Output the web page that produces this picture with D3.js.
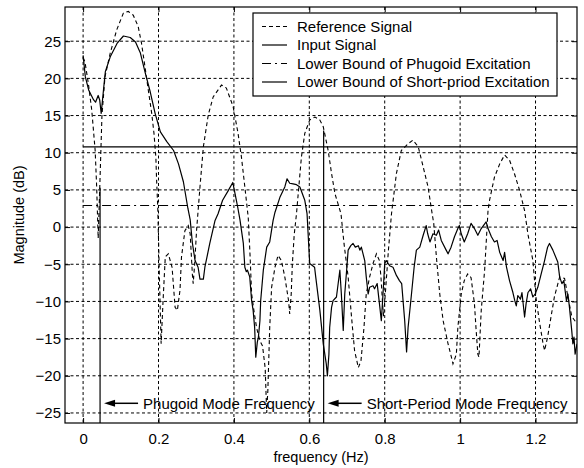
<!DOCTYPE html>
<html>
<head>
<meta charset="utf-8">
<script src="https://cdn.jsdelivr.net/npm/d3@7"></script>
<style>
  html, body { margin: 0; padding: 0; background: #fff; }
  svg { display: block; font-family: "Liberation Sans", Arial, sans-serif; }
</style>
</head>
<body>
<svg id="chart" width="584" height="468"></svg>
<script>
// Frequency response of the excitation signals (frequency in Hz, magnitude in dB)
const referenceFreq = [0,0.005,0.014,0.023,0.032,0.036,0.040,0.044,0.050,0.058,0.072,0.089,0.107,0.120,0.133,0.146,0.155,0.164,0.173,0.182,0.188,0.193,0.195,0.198,0.203,0.207,0.212,0.218,0.226,0.236,0.244,0.250,0.257,0.261,0.270,0.279,0.284,0.290,0.292,0.296,0.301,0.310,0.319,0.332,0.345,0.367,0.380,0.398,0.411,0.420,0.429,0.438,0.443,0.447,0.453,0.460,0.469,0.476,0.483,0.487,0.490,0.495,0.500,0.509,0.517,0.526,0.535,0.545,0.548,0.552,0.555,0.560,0.566,0.579,0.588,0.601,0.615,0.628,0.637,0.650,0.659,0.668,0.684,0.692,0.703,0.712,0.720,0.730,0.737,0.745,0.751,0.760,0.769,0.778,0.786,0.790,0.795,0.797,0.803,0.810,0.818,0.831,0.844,0.862,0.875,0.889,0.902,0.915,0.923,0.930,0.937,0.946,0.955,0.968,0.975,0.981,0.990,0.994,1.003,1.011,1.020,1.029,1.038,1.042,1.047,1.050,1.056,1.065,1.074,1.078,1.091,1.105,1.118,1.131,1.144,1.158,1.171,1.180,1.193,1.201,1.210,1.220,1.224,1.232,1.241,1.250,1.264,1.277,1.286,1.296,1.310];
const referenceDb = [22.8,22.2,19.3,15.7,10.3,5.4,-1.5,5.0,15.0,20.2,23.4,26.5,28.8,29.0,28.5,27.0,24.7,21.6,18.4,15.3,12.6,9.4,6.3,2.7,-8.0,-15.7,-10.0,-4.0,-3.6,-5.4,-10.8,-11.2,-8.5,-4.0,-0.5,0.2,-0.9,-6.5,-7.6,-4.9,-0.4,5.4,10.8,15.1,17.5,19.1,18.7,16.2,12.6,9.4,5.4,1.3,-4.0,-9.0,-11.2,-13.5,-15.3,-16.0,-19.0,-25.0,-22.0,-13.5,-8.1,-5.4,-3.8,-4.5,-6.7,-9.9,-11.7,-9.0,-5.0,-1.0,1.8,9.4,12.6,14.4,14.8,14.4,13.5,10.3,7.2,4.5,1.8,-2.2,-6.7,-12.1,-16.6,-18.9,-18.0,-13.5,-9.0,-6.7,-4.9,-3.6,-4.5,-6.7,-10.8,-12.0,-8.0,-3.0,1.8,7.2,10.3,11.2,11.7,10.8,8.1,5.4,2.7,0.5,-4.0,-9.0,-12.6,-15.7,-17.1,-18.4,-17.1,-13.5,-9.0,-7.2,-6.3,-6.8,-10.3,-13.5,-17.1,-17.5,-11.2,-5.8,2.2,3.6,6.7,8.5,9.7,9.0,7.2,4.9,2.2,-1.0,-4.5,-9.4,-12.6,-15.7,-16.6,-14.8,-12.1,-9.4,-6.7,-6.9,-9.4,-12.0,-13.0];

const inputFreq = [0,0.006,0.015,0.028,0.033,0.040,0.044,0.048,0.055,0.059,0.072,0.090,0.107,0.125,0.139,0.152,0.165,0.178,0.191,0.205,0.222,0.240,0.253,0.266,0.278,0.284,0.290,0.297,0.305,0.310,0.319,0.323,0.336,0.350,0.358,0.370,0.385,0.397,0.403,0.410,0.416,0.425,0.429,0.433,0.436,0.442,0.447,0.451,0.455,0.458,0.462,0.465,0.469,0.471,0.478,0.487,0.495,0.504,0.509,0.522,0.535,0.541,0.548,0.557,0.566,0.575,0.588,0.594,0.601,0.614,0.617,0.628,0.637,0.645,0.648,0.652,0.654,0.659,0.663,0.672,0.681,0.685,0.690,0.694,0.699,0.703,0.710,0.716,0.722,0.730,0.734,0.738,0.747,0.751,0.756,0.760,0.769,0.773,0.780,0.786,0.791,0.795,0.800,0.804,0.813,0.822,0.831,0.839,0.845,0.853,0.858,0.862,0.871,0.878,0.884,0.893,0.902,0.910,0.914,0.920,0.928,0.937,0.943,0.950,0.963,0.968,0.976,0.985,0.994,0.998,1.003,1.011,1.020,1.029,1.038,1.047,1.056,1.069,1.074,1.083,1.091,1.098,1.105,1.114,1.118,1.123,1.131,1.140,1.145,1.149,1.153,1.160,1.164,1.171,1.175,1.180,1.187,1.193,1.199,1.206,1.215,1.224,1.232,1.237,1.246,1.259,1.264,1.270,1.275,1.282,1.286,1.290,1.296,1.299,1.302,1.305,1.310];
const inputDb = [23.1,20.2,18.4,17.1,16.8,17.7,17.1,15.3,18.9,20.9,22.9,24.7,25.7,25.5,24.9,23.4,20.7,18.2,15.3,12.8,11.5,10.3,8.5,6.1,2.5,1.0,-2.2,-4.5,-5.4,-7.0,-7.0,-5.4,-2.2,0.9,1.8,3.6,4.9,6.0,4.5,2.7,1.0,-2.2,-5.4,-6.0,-5.8,-6.7,-9.9,-11.2,-13.5,-17.5,-15.5,-14.8,-12.6,-9.9,-5.8,-2.7,-2.0,0.9,2.0,4.0,5.4,6.5,5.9,5.8,5.7,5.4,3.6,1.8,-4.9,-5.4,-6.7,-11.2,-15.7,-18.4,-20.0,-17.1,-13.5,-10.8,-9.9,-9.4,-5.8,-9.0,-13.9,-9.0,-5.8,-3.1,-2.5,-2.2,-2.7,-2.5,-3.1,-2.7,-4.5,-6.7,-9.0,-8.1,-7.9,-8.3,-7.6,-10.3,-12.6,-9.4,-4.9,-4.5,-5.2,-5.4,-6.5,-7.2,-7.6,-12.6,-16.8,-13.5,-9.0,-5.4,-3.1,-2.7,-1.1,0.2,-0.9,-2.0,-0.9,-1.1,-0.4,-1.8,-3.1,-3.6,-2.7,-1.3,-0.2,0.2,-0.9,-2.0,-0.9,0.5,-0.2,-1.1,-0.2,0.7,-0.2,-1.3,-2.0,-1.8,-3.4,-4.5,-3.4,-5.4,-7.2,-8.8,-9.9,-10.6,-9.2,-9.7,-8.8,-12.1,-10.3,-8.8,-8.3,-9.4,-9.0,-8.1,-6.3,-4.5,-2.7,-2.2,-3.1,-4.7,-6.7,-7.6,-7.2,-9.9,-9.0,-10.8,-13.9,-15.7,-14.8,-17.1,-15.7];

// Lower bounds (dB)
const phugoidBound = 2.9;
const shortPeriodBound = 10.8;

// Mode frequencies (Hz) and the level where each marker line ends
const modeFreqs = [0.045, 0.638];
const modeLineTop = [5.3, 13.0];
const modeLabels = ["Phugoid Mode Frequency", "Short-Period Mode Frequency"];
const annotationDb = -23.7;

const xTicks = [0, 0.2, 0.4, 0.6, 0.8, 1, 1.2];
const yTicks = [-25, -20, -15, -10, -5, 0, 5, 10, 15, 20, 25];

const legendLabels = ["Reference Signal", "Input Signal", "Lower Bound of Phugoid Excitation", "Lower Bound of Short-priod Excitation"];

const margin = {left: 65, top: 7, right: 7, bottom: 45};
const W = 584, H = 468;
const pw = W - margin.left - margin.right;
const ph = H - margin.top - margin.bottom;

const svg = d3.select("#chart");
const g = svg.append("g").attr("transform", `translate(${margin.left},${margin.top})`);

const x = d3.scaleLinear().domain([-0.048, 1.31]).range([0, pw]);
const y = d3.scaleLinear().domain([-26.35, 29.6]).range([ph, 0]);

g.append("clipPath").attr("id", "plotClip")
  .append("rect").attr("width", pw).attr("height", ph);

// Dotted grid
const gridStyle = sel => sel.attr("stroke", "#000").attr("stroke-width", 1).attr("stroke-dasharray", "3,2.5").attr("fill", "none");
g.append("g").selectAll("line").data(xTicks).join("line")
  .attr("x1", d => x(d)).attr("x2", d => x(d)).attr("y1", 0).attr("y2", ph).call(gridStyle);
g.append("g").selectAll("line").data(yTicks).join("line")
  .attr("y1", d => y(d)).attr("y2", d => y(d)).attr("x1", 0).attr("x2", pw).call(gridStyle);

const plot = g.append("g").attr("clip-path", "url(#plotClip)");

const line = d3.line().x(d => x(d[0])).y(d => y(d[1]));

// Lower bound lines
plot.append("path").datum([[0, phugoidBound], [1.31, phugoidBound]])
  .attr("d", line).attr("fill", "none").attr("stroke", "#000").attr("stroke-width", 1.2)
  .attr("stroke-dasharray", "9,4,2,4");
plot.append("path").datum([[0, shortPeriodBound], [1.31, shortPeriodBound]])
  .attr("d", line).attr("fill", "none").attr("stroke", "#000").attr("stroke-width", 1.2);

// Reference signal
plot.append("path").datum(d3.zip(referenceFreq, referenceDb))
  .attr("d", line).attr("fill", "none").attr("stroke", "#000").attr("stroke-width", 1.1)
  .attr("stroke-dasharray", "4,3");

// Input signal
plot.append("path").datum(d3.zip(inputFreq, inputDb))
  .attr("d", line).attr("fill", "none").attr("stroke", "#000").attr("stroke-width", 1.2)
  .attr("stroke-linejoin", "round");

// Mode frequency markers
plot.selectAll("line.mode").data(modeFreqs).join("line").attr("class", "mode")
  .attr("x1", d => x(d)).attr("x2", d => x(d))
  .attr("y1", (d, i) => y(modeLineTop[i])).attr("y2", ph)
  .attr("stroke", "#000").attr("stroke-width", 1.2);

// Arrow annotations pointing back to each mode line
const ann = g.append("g");
modeFreqs.forEach((f, i) => {
  const tip = x(f) + 4, yy = y(annotationDb);
  ann.append("line").attr("x1", tip + 8).attr("x2", tip + 34).attr("y1", yy).attr("y2", yy)
    .attr("stroke", "#000").attr("stroke-width", 1.5);
  ann.append("path")
    .attr("d", `M${tip},${yy} L${tip + 11},${yy - 3.5} L${tip + 11},${yy + 3.5} Z`)
    .attr("fill", "#000");
  ann.append("text").attr("x", tip + 39).attr("y", yy).attr("dy", "0.35em")
    .attr("font-size", 15).text(modeLabels[i]);
});

// Axes with inward ticks on all sides
const styleAxis = sel => {
  sel.select(".domain").remove();
  sel.selectAll(".tick line").attr("stroke", "#000");
  sel.selectAll("text").attr("font-size", 15).attr("font-family", "Liberation Sans, Arial, sans-serif").attr("fill", "#000");
};
g.append("g").attr("transform", `translate(0,${ph})`)
  .call(d3.axisBottom(x).tickValues(xTicks).tickFormat(d3.format("~g")).tickSize(-5).tickPadding(10))
  .call(styleAxis);
g.append("g")
  .call(d3.axisTop(x).tickValues(xTicks).tickFormat("").tickSize(-5))
  .call(styleAxis);
g.append("g")
  .call(d3.axisLeft(y).tickValues(yTicks).tickFormat(d3.format("~g")).tickSize(-5).tickPadding(4))
  .call(styleAxis);
g.append("g").attr("transform", `translate(${pw},0)`)
  .call(d3.axisRight(y).tickValues(yTicks).tickFormat("").tickSize(-5))
  .call(styleAxis);

g.append("rect").attr("width", pw).attr("height", ph)
  .attr("fill", "none").attr("stroke", "#000").attr("stroke-width", 1.2);

// Axis titles
svg.append("text").attr("x", margin.left + pw / 2).attr("y", 462)
  .attr("text-anchor", "middle").attr("font-size", 14.5).text("frequency (Hz)");
svg.append("text").attr("transform", `translate(24,${margin.top + ph / 2}) rotate(-90)`)
  .attr("text-anchor", "middle").attr("font-size", 14.5).text("Magnitude (dB)");

// Legend
const legend = svg.append("g").attr("transform", "translate(253,13)");
legend.append("rect").attr("width", 304).attr("height", 83)
  .attr("fill", "#fff").attr("stroke", "#000").attr("stroke-width", 1.2);
const dashes = ["4,3", null, "9,4,2,4", null];
legendLabels.forEach((t, i) => {
  const yy = 13.5 + i * 18.5;
  legend.append("line").attr("x1", 9).attr("x2", 34).attr("y1", yy).attr("y2", yy)
    .attr("stroke", "#000").attr("stroke-width", 1.2)
    .attr("stroke-dasharray", dashes[i]);
  legend.append("text").attr("x", 44).attr("y", yy).attr("dy", "0.35em")
    .attr("font-size", 15).text(t);
});
</script>
</body>
</html>
